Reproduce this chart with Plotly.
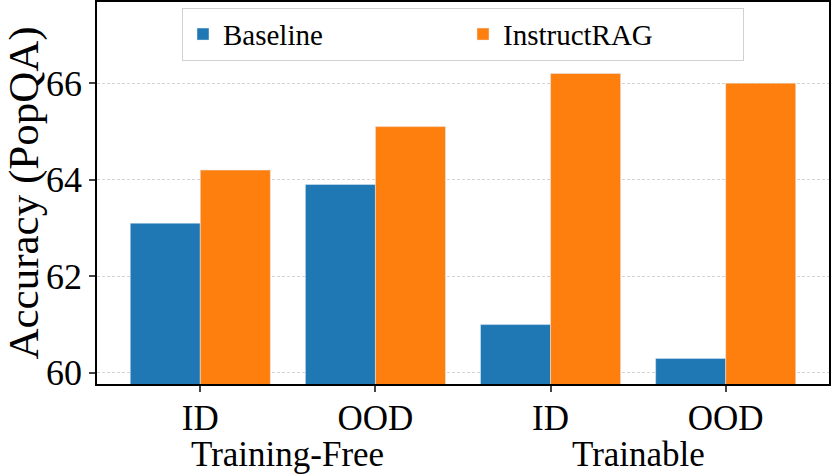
import plotly.graph_objects as go

conditions = ["ID", "OOD", "ID", "OOD"]
groups = ["Training-Free", "Trainable"]
baseline = [63.1, 63.9, 61.0, 60.3]
instructrag = [64.2, 65.1, 66.2, 66.0]

pos = list(range(len(conditions)))
font = "Liberation Serif"

fig = go.Figure()
fig.add_trace(go.Bar(x=pos, y=baseline, name="Baseline", marker_color="#1f77b4"))
fig.add_trace(go.Bar(x=pos, y=instructrag, name="InstructRAG", marker_color="#ff7f0e"))

# group labels under each pair of conditions
for i, g in enumerate(groups):
    fig.add_annotation(x=(pos[2 * i] + pos[2 * i + 1]) / 2, y=0, xref="x", yref="paper",
                       yanchor="top", yshift=-49, text=g, showarrow=False,
                       font=dict(family=font, size=35, color="black"))

fig.update_layout(
    width=831, height=474,
    margin=dict(l=97, r=2, t=2, b=90),
    plot_bgcolor="white", paper_bgcolor="white",
    barmode="group", bargap=0.2, bargroupgap=0,
    font=dict(family=font, size=36, color="black"),
    legend=dict(orientation="h", x=0.5, xanchor="center", y=0.985, yanchor="top",
                font=dict(family=font, size=29, color="black"),
                bordercolor="#d0d0d0", borderwidth=1,
                entrywidth=235, bgcolor="rgba(255,255,255,0.9)"),
    xaxis=dict(range=[-0.59, 3.59], tickvals=pos, ticktext=conditions,
               ticks="outside", ticklen=6, tickwidth=1.5, automargin=False,
               tickfont=dict(size=35), ticklabelstandoff=-4,
               showline=True, linecolor="black", linewidth=1.5, mirror=True,
               showgrid=False, zeroline=False),
    yaxis=dict(range=[59.77, 67.68], tickvals=[60, 62, 64, 66],
               ticks="outside", ticklen=6, tickwidth=1.5, automargin=False,
               showline=True, linecolor="black", linewidth=1.5, mirror=True,
               showgrid=True, gridcolor="#d4d4d4", gridwidth=0.7, griddash="3px,2px",
               zeroline=False,
               title=dict(text="Accuracy (PopQA)", standoff=12)),
)

fig.write_html("out.html", config={"displayModeBar": False},
               post_script="document.body.style.margin='0';")
